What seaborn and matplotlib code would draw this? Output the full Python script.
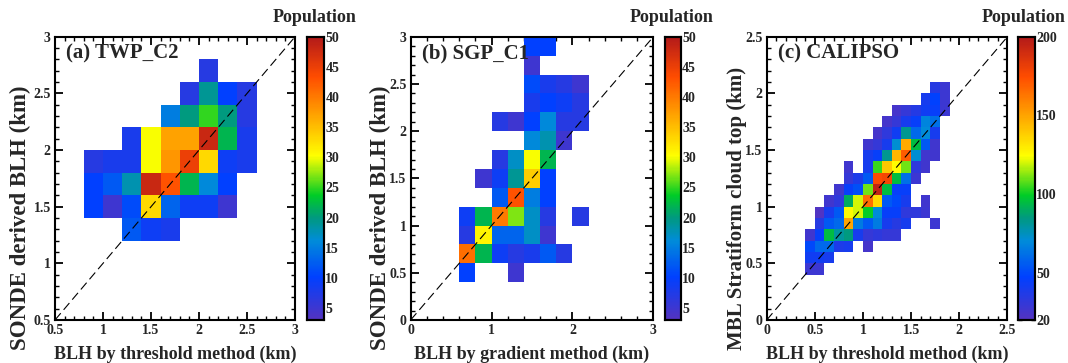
import numpy as np
import pandas as pd
import matplotlib
matplotlib.use("Agg")
import matplotlib.pyplot as plt
from matplotlib.colors import LinearSegmentedColormap
from matplotlib.ticker import MultipleLocator, FuncFormatter
import seaborn as sns

# ---------------- data (bin centres, km; counts) ----------------
# (a) TWP_C2 : 0.2 km bins, rows listed from top (highest y) to bottom
A_XC = [0.9, 1.1, 1.3, 1.5, 1.7, 1.9, 2.1, 2.3, 2.5]
A_YC = [2.7, 2.5, 2.3, 2.1, 1.9, 1.7, 1.5, 1.3]
A_COUNTS = [
    [0, 0, 0, 0, 0, 0, 7, 0, 0],
    [0, 0, 0, 0, 0, 7, 19, 10, 7],
    [0, 0, 0, 0, 15, 20, 25, 20, 7],
    [0, 0, 8, 30, 37, 37, 48, 22, 8],
    [7, 8, 8, 30, 38, 45, 33, 9, 8],
    [10, 12, 18, 48, 43, 22, 16, 10, 0],
    [10, 5, 11, 33, 13, 9, 9, 5, 0],
    [0, 0, 12, 9, 8, 0, 0, 0, 0],
]

# (b) SGP_C1 : 0.2 km bins
B_XC = [0.7, 0.9, 1.1, 1.3, 1.5, 1.7, 1.9, 2.1]
B_YC = [2.9, 2.7, 2.5, 2.3, 2.1, 1.9, 1.7, 1.5, 1.3, 1.1, 0.9, 0.7, 0.5]
B_COUNTS = [
    [0, 0, 0, 0, 10, 10, 0, 0],
    [0, 0, 0, 0, 5, 0, 0, 0],
    [0, 0, 0, 0, 11, 8, 7, 5],
    [0, 0, 0, 0, 8, 10, 9, 7],
    [0, 0, 7, 5, 10, 16, 7, 7],
    [0, 0, 0, 0, 16, 18, 5, 0],
    [0, 0, 7, 17, 30, 22, 0, 0],
    [0, 5, 9, 19, 34, 10, 0, 0],
    [0, 0, 12, 43, 15, 10, 0, 0],
    [9, 22, 40, 27, 17, 7, 0, 7],
    [7, 31, 13, 13, 17, 5, 0, 0],
    [41, 22, 9, 7, 8, 12, 7, 0],
    [10, 0, 0, 5, 0, 0, 0, 0],
]

# (c) CALIPSO : 0.1 km bins
C_XC = [0.45, 0.55, 0.65, 0.75, 0.85, 0.95, 1.05, 1.15, 1.25, 1.35, 1.45, 1.55, 1.65, 1.75, 1.85]
C_YC = [2.05, 1.95, 1.85, 1.75, 1.65, 1.55, 1.45, 1.35, 1.25, 1.15, 1.05, 0.95, 0.85, 0.75, 0.65, 0.55, 0.45]
C_COUNTS = [
    [0, 0, 0, 0, 0, 0, 0, 0, 0, 0, 0, 0, 0, 35, 28],
    [0, 0, 0, 0, 0, 0, 0, 0, 0, 0, 0, 0, 40, 48, 28],
    [0, 0, 0, 0, 0, 0, 0, 0, 0, 25, 30, 36, 42, 45, 28],
    [0, 0, 0, 0, 0, 0, 0, 0, 25, 30, 40, 45, 68, 62, 0],
    [0, 0, 0, 0, 0, 0, 0, 25, 32, 42, 82, 60, 70, 40, 0],
    [0, 0, 0, 0, 0, 0, 27, 30, 40, 72, 148, 95, 55, 27, 0],
    [0, 0, 0, 0, 0, 0, 40, 45, 82, 145, 170, 72, 27, 27, 0],
    [0, 0, 0, 0, 27, 0, 40, 105, 140, 125, 110, 32, 27, 0, 0],
    [0, 0, 0, 0, 30, 38, 55, 175, 178, 95, 62, 28, 0, 0, 0],
    [0, 0, 0, 27, 45, 52, 110, 195, 95, 45, 45, 0, 0, 0, 0],
    [0, 0, 27, 32, 90, 120, 165, 135, 55, 50, 40, 0, 27, 0, 0],
    [0, 22, 40, 55, 125, 120, 100, 70, 45, 45, 32, 32, 28, 0, 0],
    [0, 35, 55, 60, 150, 65, 55, 65, 40, 35, 40, 0, 0, 28, 0],
    [27, 45, 95, 80, 85, 40, 30, 33, 30, 30, 0, 0, 0, 0, 0],
    [50, 60, 60, 38, 40, 0, 25, 0, 0, 0, 0, 0, 0, 0, 0],
    [42, 42, 40, 0, 0, 0, 0, 0, 0, 0, 0, 0, 0, 0, 0],
    [28, 28, 0, 0, 0, 0, 0, 0, 0, 0, 0, 0, 0, 0, 0],
]

TITLES = ["(a) TWP_C2", "(b) SGP_C1", "(c) CALIPSO"]
XLABELS = ["BLH by threshold method (km)", "BLH by gradient method (km)", "BLH by threshold method (km)"]
YLABELS = ["SONDE derived BLH (km)", "SONDE derived BLH (km)", "MBL Stratiform cloud top (km)"]
CBAR_LABEL = "Population"
CBAR_TICKS = [[5, 10, 15, 20, 25, 30, 35, 40, 45, 50],
              [5, 10, 15, 20, 25, 30, 35, 40, 45, 50],
              [20, 50, 100, 150, 200]]

# ---------------- style ----------------
sns.set_theme(style="white")
plt.rcParams["font.family"] = ["Liberation Serif", "DejaVu Serif"]
plt.rcParams["font.weight"] = "bold"
plt.rcParams["axes.labelweight"] = "bold"

cmap = LinearSegmentedColormap.from_list("idl", [
    (0.00, (0.33, 0.20, 0.75)),
    (0.15, (0.00, 0.25, 1.00)),
    (0.28, (0.00, 0.55, 0.85)),
    (0.36, (0.00, 0.60, 0.50)),
    (0.44, (0.00, 0.80, 0.15)),
    (0.58, (1.00, 1.00, 0.00)),
    (0.72, (1.00, 0.65, 0.00)),
    (0.86, (1.00, 0.30, 0.00)),
    (1.00, (0.70, 0.10, 0.10)),
])


def to_frame(xc, yc, counts):
    rows = []
    for j, yv in enumerate(yc):
        for i, xv in enumerate(xc):
            if counts[j][i] > 0:
                rows.append((xv, yv, counts[j][i]))
    return pd.DataFrame(rows, columns=["x", "y", "w"])


panels = [
    dict(df=to_frame(A_XC, A_YC, A_COUNTS), bw=0.2, lim=(0.5, 3.0), vmin=3, vmax=50,
         xmaj=0.5, xmin=0.1, ymaj=0.5, ymin=0.1, ylx=20, yls=16.5,
         ax=[0.0515, 0.1185, 0.2247, 0.780], cax=[0.2875, 0.1185, 0.0159, 0.780]),
    dict(df=to_frame(B_XC, B_YC, B_COUNTS), bw=0.2, lim=(0.0, 3.0), vmin=3, vmax=50,
         xmaj=1.0, xmin=0.2, ymaj=0.5, ymin=0.1, ylx=380, yls=16.5,
         ax=[0.3845, 0.1185, 0.2272, 0.780], cax=[0.6227, 0.1185, 0.0147, 0.780]),
    dict(df=to_frame(C_XC, C_YC, C_COUNTS), bw=0.1, lim=(0.0, 2.5), vmin=20, vmax=200,
         xmaj=0.5, xmin=0.1, ymaj=0.5, ymin=0.1, ylx=737, yls=15,
         ax=[0.7179, 0.1185, 0.2253, 0.780], cax=[0.9529, 0.1185, 0.0162, 0.780]),
]

W, H = 1068, 363
fig = plt.figure(figsize=(W / 100, H / 100), dpi=100)
fmt = FuncFormatter(lambda v, p: f"{v:g}")

for k, p in enumerate(panels):
    ax = fig.add_axes(p["ax"])
    cax = fig.add_axes(p["cax"])
    lo, hi = p["lim"]
    edges = np.round(np.arange(-2.0, 5.0 + 1e-9, p["bw"]), 3)
    sns.histplot(data=p["df"], x="x", y="y", weights="w", bins=[edges, edges],
                 cmap=cmap, vmin=p["vmin"], vmax=p["vmax"], thresh=0,
                 cbar=True, cbar_ax=cax, cbar_kws={"ticks": CBAR_TICKS[k]}, ax=ax)
    ax.plot([lo, hi], [lo, hi], color="black", lw=0.8, ls=(0, (8, 4)))
    ax.set_xlim(lo, hi)
    ax.set_ylim(lo, hi)
    ax.xaxis.set_major_locator(MultipleLocator(p["xmaj"]))
    ax.xaxis.set_minor_locator(MultipleLocator(p["xmin"]))
    ax.yaxis.set_major_locator(MultipleLocator(p["ymaj"]))
    ax.yaxis.set_minor_locator(MultipleLocator(p["ymin"]))
    ax.xaxis.set_major_formatter(fmt)
    ax.yaxis.set_major_formatter(fmt)
    ax.tick_params(which="both", direction="in", top=True, right=True,
                   bottom=True, left=True, color="black")
    ax.tick_params(which="major", length=6, width=1.3, labelsize=10, pad=3)
    ax.tick_params(which="minor", length=3, width=1.0)
    for lab in ax.get_xticklabels() + ax.get_yticklabels():
        lab.set_fontweight("bold")
    for s in ax.spines.values():
        s.set_visible(True)
        s.set_color("black")
        s.set_linewidth(1.5)
    ax.set_xlabel(XLABELS[k], fontsize=13, fontweight="bold", labelpad=6)
    ax.set_ylabel("")
    fig.text(p["ylx"] / W, 13 / H, YLABELS[k], rotation=90, ha="center", va="bottom",
             fontsize=p["yls"], fontweight="bold")
    ax.text(0.045, 0.94, TITLES[k], transform=ax.transAxes, fontsize=15,
            fontweight="bold", ha="left", va="center")

    cax.set_ylim(p["vmin"], p["vmax"])
    cax.tick_params(which="both", direction="in", left=True, right=True,
                    length=3, width=1.0, color="black", labelsize=10, pad=1)
    cax.minorticks_off()
    for lab in cax.get_yticklabels():
        lab.set_fontweight("bold")
    for s in cax.spines.values():
        s.set_visible(True)
        s.set_linewidth(1.5)
        s.set_color("black")
    cpos = p["cax"]
    if k < 2:
        fig.text(cpos[0] + cpos[2] / 2 - 1 / W, 1 - 18 / H, CBAR_LABEL, ha="center",
                 va="center", fontsize=13, fontweight="bold")
    else:
        fig.text(1 - 2 / W, 1 - 18 / H, CBAR_LABEL, ha="right",
                 va="center", fontsize=13, fontweight="bold")

fig.savefig("out.png", dpi=100, facecolor="white")
